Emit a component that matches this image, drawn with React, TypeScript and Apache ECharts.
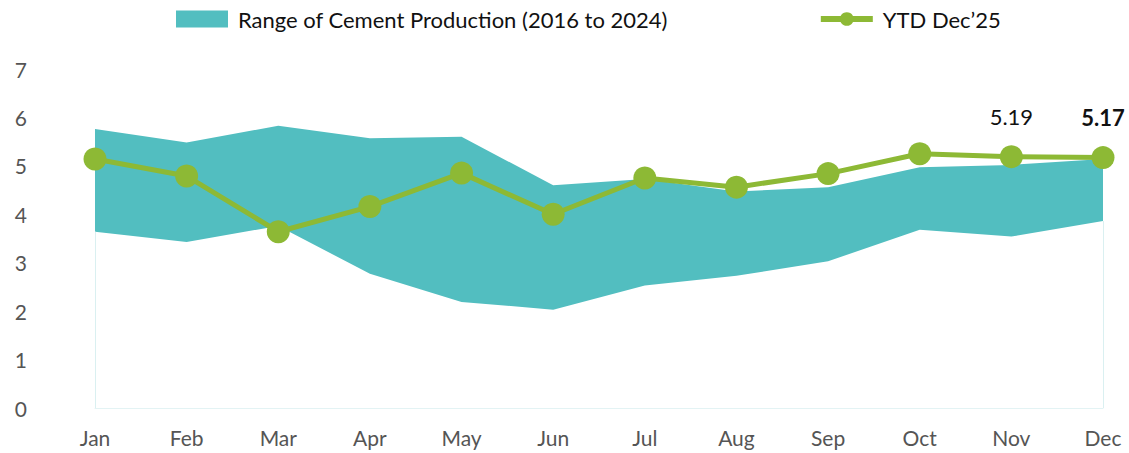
import React, { useEffect, useRef } from "react";
import * as echarts from "echarts";

const months = ["Jan", "Feb", "Mar", "Apr", "May", "Jun", "Jul", "Aug", "Sep", "Oct", "Nov", "Dec"];
const rangeLow = [3.64, 3.43, 3.76, 2.77, 2.19, 2.03, 2.53, 2.73, 3.03, 3.68, 3.54, 3.86];
const rangeHigh = [5.76, 5.48, 5.83, 5.57, 5.6, 4.6, 4.73, 4.47, 4.56, 4.97, 5.02, 5.14];
const ytd = [5.14, 4.79, 3.64, 4.16, 4.85, 4.0, 4.75, 4.56, 4.84, 5.25, 5.19, 5.17];
const labelledIdx = [10, 11];
const boldIdx = 11;
const yTicks = [0, 1, 2, 3, 4, 5, 6, 7];

const RANGE_NAME = "Range of Cement Production (2016 to 2024)";
const LINE_NAME = "YTD Dec\u201925";
const FONT = "Lato";

export default function App() {
  const ref = useRef<HTMLDivElement>(null);
  useEffect(() => {
    if (!ref.current) return;
    const chart = echarts.init(ref.current, undefined, { renderer: "svg" });
    const spread = rangeHigh.map((h, i) => +(h - rangeLow[i]).toFixed(3));
    const lineData = ytd.map((v, i) =>
      labelledIdx.includes(i)
        ? {
            value: v,
            label: {
              show: true,
              position: "top",
              distance: 18,
              fontFamily: FONT,
              fontSize: 22,
              color: "#111",
              fontWeight: i === boldIdx ? "bold" : "normal",
              formatter: (p: any) => p.value.toFixed(2),
            },
          }
        : v
    );
    chart.setOption({
      animation: false,
      textStyle: { fontFamily: FONT },
      legend: {
        top: 3,
        left: 171,
        itemGap: 150,
        itemWidth: 52,
        itemHeight: 17,
        textStyle: { fontFamily: FONT, fontSize: 22, color: "#111", padding: [0, 0, 0, 5] },
        data: [
          { name: RANGE_NAME, icon: "rect" },
          { name: LINE_NAME, lineStyle: { width: 6 } },
        ],
      },
      grid: { left: 95, right: 26, top: 69, bottom: 45 },
      xAxis: {
        type: "category",
        data: months,
        boundaryGap: false,
        axisLine: { lineStyle: { color: "#e3f3f4", width: 1 } },
        axisTick: { show: false },
        axisLabel: { fontFamily: FONT, fontSize: 21, color: "#555", margin: 19 },
      },
      yAxis: {
        type: "value",
        min: yTicks[0],
        max: yTicks[yTicks.length - 1],
        interval: 1,
        splitLine: { show: false },
        axisLine: { show: false },
        axisTick: { show: false },
        axisLabel: { fontFamily: FONT, fontSize: 21, color: "#555", margin: 68 },
      },
      series: [
        {
          name: "base",
          type: "line",
          stack: "band",
          data: rangeLow,
          symbol: "none",
          lineStyle: { width: 0, opacity: 0 },
          silent: true,
          z: 1,
          markLine: {
            silent: true,
            symbol: "none",
            label: { show: false },
            lineStyle: { color: "#daf0f1", width: 1, type: "solid" },
            data: [
              [{ coord: [months[0], 0] }, { coord: [months[0], rangeLow[0]] }],
              [{ coord: [months[11], 0] }, { coord: [months[11], rangeLow[11]] }],
            ],
          },
        },
        {
          name: RANGE_NAME,
          type: "line",
          stack: "band",
          data: spread,
          symbol: "none",
          lineStyle: { width: 0, opacity: 0 },
          areaStyle: { color: "#52BEC0", opacity: 1 },
          itemStyle: { color: "#52BEC0" },
          z: 2,
        },
        {
          name: LINE_NAME,
          type: "line",
          data: lineData,
          symbol: "circle",
          symbolSize: 23,
          lineStyle: { color: "#8DB935", width: 5 },
          itemStyle: { color: "#8DB935" },
          z: 5,
        },
      ],
    });
    return () => chart.dispose();
  }, []);
  return (
    <div
      ref={ref}
      style={{ position: "absolute", left: 0, top: 0, width: 1129, height: 453 }}
    />
  );
}
